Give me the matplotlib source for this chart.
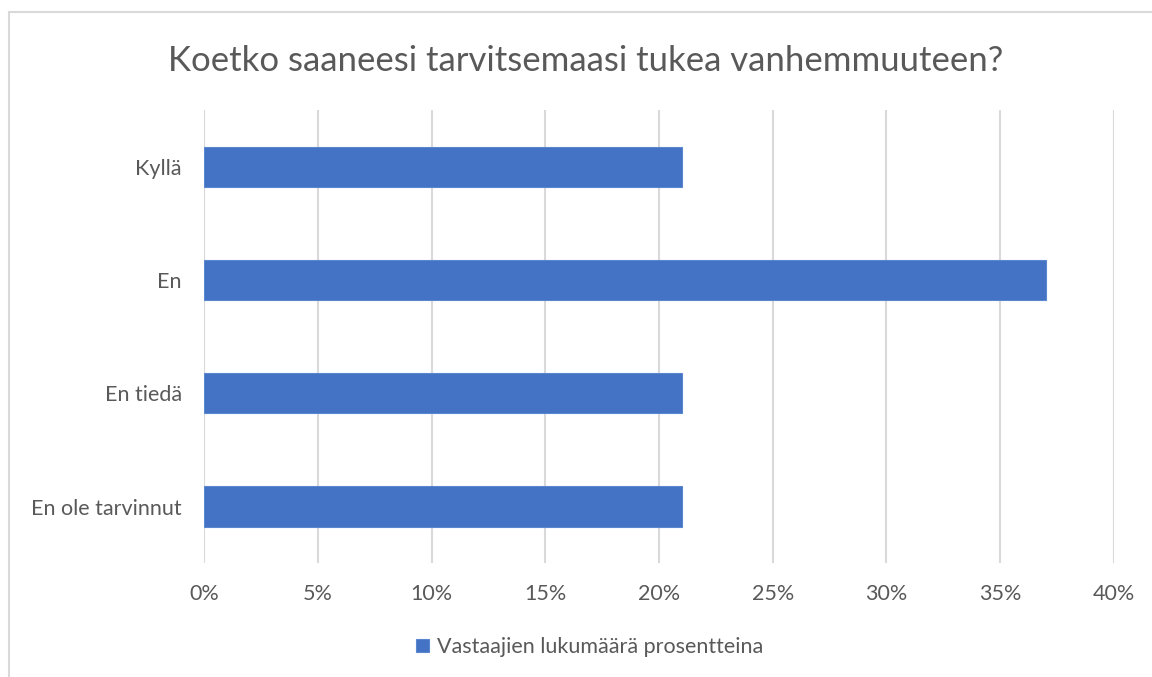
import matplotlib.pyplot as plt
from matplotlib.patches import Rectangle
from matplotlib.ticker import FuncFormatter

categories = ['Kyllä', 'En', 'En tiedä', 'En ole tarvinnut']
values = [21, 37, 21, 21]
series_name = 'Vastaajien lukumäärä prosentteina'
title = 'Koetko saaneesi tarvitsemaasi tukea vanhemmuuteen?'

plt.rcParams['font.family'] = ['Lato', 'DejaVu Sans']
text_col = '#595959'

fig = plt.figure(figsize=(11.52, 6.77), dpi=100)
ax = fig.add_axes([0.1771, 0.168, 0.967 - 0.1771, 0.8375 - 0.168])

ypos = list(range(len(categories)))
ax.barh(ypos, values, height=0.355, color='#4472C4', edgecolor='#5b86d0',
        linewidth=0.8, label=series_name, zorder=3)
ax.set_ylim(len(categories) - 0.5, -0.5)
ax.set_xlim(0, 40)
ax.set_xticks(range(0, 41, 5))
ax.xaxis.set_major_formatter(FuncFormatter(lambda v, p: f'{v:.0f}%'))
ax.set_yticks(ypos)
ax.set_yticklabels(categories)
ax.grid(axis='x', color='#d9d9d9', linewidth=1.5, zorder=0)
for s in ax.spines.values():
    s.set_visible(False)
ax.tick_params(length=0, labelsize=15.5, colors=text_col)
ax.tick_params(axis='x', pad=15)
ax.tick_params(axis='y', pad=16)

fig.text(0.508, 0.91, title, ha='center', va='center', fontsize=25, color=text_col)
fig.legend(loc='center', bbox_to_anchor=(0.512, 0.044), frameon=False,
           fontsize=15.5, labelcolor=text_col, handlelength=0.6, handleheight=0.6,
           handletextpad=0.35)

# chart border (left and top visible)
fig.patches.append(Rectangle((9 / 1152, -0.1), 1.2, 1 - 12 / 677 + 0.1,
                             transform=fig.transFigure, fill=False,
                             edgecolor='#d9d9d9', linewidth=1.5))

fig.savefig('out.png', dpi=100)
